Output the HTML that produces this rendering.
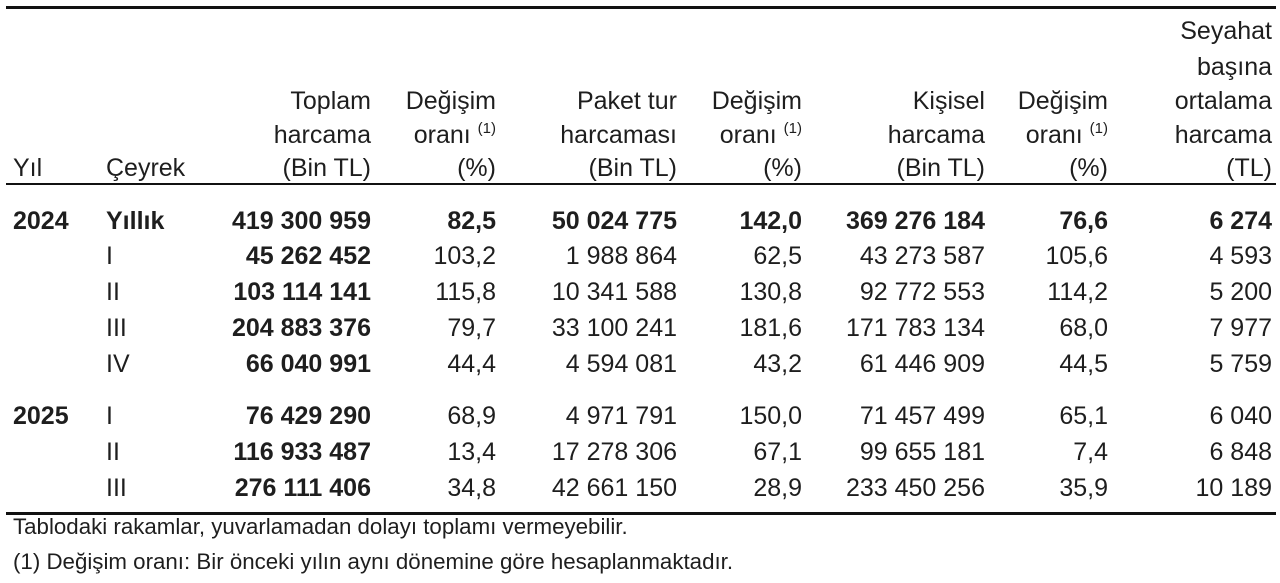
<!DOCTYPE html>
<html><head><meta charset="utf-8"><style>
body{margin:0;width:1280px;height:583px;background:#fff;position:relative;overflow:hidden;font-family:"Liberation Sans",Arial,sans-serif;color:#1e1e1e}
.c{position:absolute;white-space:nowrap;font-size:25px;line-height:26px;height:26px;text-align:right}
.l{text-align:left}
.b{font-weight:bold}
sup{font-size:15px;vertical-align:0;position:relative;top:-10px}
.ln{position:absolute;left:6px;right:4px;background:#111}
.f{position:absolute;left:13px;font-size:22.3px;white-space:nowrap;line-height:24px}
</style></head><body>
<div class="ln" style="top:6px;height:3px"></div>
<div class="ln" style="top:183px;height:2px"></div>
<div class="ln" style="top:512px;height:3px"></div>

<div class="c l" style="left:13px;top:155px">Yıl</div>
<div class="c l" style="left:106px;top:155px">Çeyrek</div>
<div class="c" style="right:909px;top:88px">Toplam</div>
<div class="c" style="right:909px;top:122px">harcama</div>
<div class="c" style="right:909px;top:155px">(Bin TL)</div>
<div class="c" style="right:784px;top:88px">Değişim</div>
<div class="c" style="right:784px;top:122px">oranı <sup>(1)</sup></div>
<div class="c" style="right:784px;top:155px">(%)</div>
<div class="c" style="right:603px;top:88px">Paket tur</div>
<div class="c" style="right:603px;top:122px">harcaması</div>
<div class="c" style="right:603px;top:155px">(Bin TL)</div>
<div class="c" style="right:478px;top:88px">Değişim</div>
<div class="c" style="right:478px;top:122px">oranı <sup>(1)</sup></div>
<div class="c" style="right:478px;top:155px">(%)</div>
<div class="c" style="right:295px;top:88px">Kişisel</div>
<div class="c" style="right:295px;top:122px">harcama</div>
<div class="c" style="right:295px;top:155px">(Bin TL)</div>
<div class="c" style="right:172px;top:88px">Değişim</div>
<div class="c" style="right:172px;top:122px">oranı <sup>(1)</sup></div>
<div class="c" style="right:172px;top:155px">(%)</div>
<div class="c" style="right:8px;top:18px">Seyahat</div>
<div class="c" style="right:8px;top:54px">başına</div>
<div class="c" style="right:8px;top:88px">ortalama</div>
<div class="c" style="right:8px;top:122px">harcama</div>
<div class="c" style="right:8px;top:155px">(TL)</div>

<div class="c l b" style="left:13px;top:208px">2024</div>
<div class="c l b" style="left:106px;top:208px">Yıllık</div>
<div class="c b" style="right:909px;top:208px">419 300 959</div>
<div class="c b" style="right:784px;top:208px">82,5</div>
<div class="c b" style="right:603px;top:208px">50 024 775</div>
<div class="c b" style="right:478px;top:208px">142,0</div>
<div class="c b" style="right:295px;top:208px">369 276 184</div>
<div class="c b" style="right:172px;top:208px">76,6</div>
<div class="c b" style="right:8px;top:208px">6 274</div>

<div class="c l" style="left:106px;top:243px">I</div>
<div class="c b" style="right:909px;top:243px">45 262 452</div>
<div class="c" style="right:784px;top:243px">103,2</div>
<div class="c" style="right:603px;top:243px">1 988 864</div>
<div class="c" style="right:478px;top:243px">62,5</div>
<div class="c" style="right:295px;top:243px">43 273 587</div>
<div class="c" style="right:172px;top:243px">105,6</div>
<div class="c" style="right:8px;top:243px">4 593</div>

<div class="c l" style="left:106px;top:279px">II</div>
<div class="c b" style="right:909px;top:279px">103 114 141</div>
<div class="c" style="right:784px;top:279px">115,8</div>
<div class="c" style="right:603px;top:279px">10 341 588</div>
<div class="c" style="right:478px;top:279px">130,8</div>
<div class="c" style="right:295px;top:279px">92 772 553</div>
<div class="c" style="right:172px;top:279px">114,2</div>
<div class="c" style="right:8px;top:279px">5 200</div>

<div class="c l" style="left:106px;top:315px">III</div>
<div class="c b" style="right:909px;top:315px">204 883 376</div>
<div class="c" style="right:784px;top:315px">79,7</div>
<div class="c" style="right:603px;top:315px">33 100 241</div>
<div class="c" style="right:478px;top:315px">181,6</div>
<div class="c" style="right:295px;top:315px">171 783 134</div>
<div class="c" style="right:172px;top:315px">68,0</div>
<div class="c" style="right:8px;top:315px">7 977</div>

<div class="c l" style="left:106px;top:351px">IV</div>
<div class="c b" style="right:909px;top:351px">66 040 991</div>
<div class="c" style="right:784px;top:351px">44,4</div>
<div class="c" style="right:603px;top:351px">4 594 081</div>
<div class="c" style="right:478px;top:351px">43,2</div>
<div class="c" style="right:295px;top:351px">61 446 909</div>
<div class="c" style="right:172px;top:351px">44,5</div>
<div class="c" style="right:8px;top:351px">5 759</div>

<div class="c l b" style="left:13px;top:403px">2025</div>
<div class="c l" style="left:106px;top:403px">I</div>
<div class="c b" style="right:909px;top:403px">76 429 290</div>
<div class="c" style="right:784px;top:403px">68,9</div>
<div class="c" style="right:603px;top:403px">4 971 791</div>
<div class="c" style="right:478px;top:403px">150,0</div>
<div class="c" style="right:295px;top:403px">71 457 499</div>
<div class="c" style="right:172px;top:403px">65,1</div>
<div class="c" style="right:8px;top:403px">6 040</div>

<div class="c l" style="left:106px;top:439px">II</div>
<div class="c b" style="right:909px;top:439px">116 933 487</div>
<div class="c" style="right:784px;top:439px">13,4</div>
<div class="c" style="right:603px;top:439px">17 278 306</div>
<div class="c" style="right:478px;top:439px">67,1</div>
<div class="c" style="right:295px;top:439px">99 655 181</div>
<div class="c" style="right:172px;top:439px">7,4</div>
<div class="c" style="right:8px;top:439px">6 848</div>

<div class="c l" style="left:106px;top:475px">III</div>
<div class="c b" style="right:909px;top:475px">276 111 406</div>
<div class="c" style="right:784px;top:475px">34,8</div>
<div class="c" style="right:603px;top:475px">42 661 150</div>
<div class="c" style="right:478px;top:475px">28,9</div>
<div class="c" style="right:295px;top:475px">233 450 256</div>
<div class="c" style="right:172px;top:475px">35,9</div>
<div class="c" style="right:8px;top:475px">10 189</div>

<div class="f" style="top:515px">Tablodaki rakamlar, yuvarlamadan dolayı toplamı vermeyebilir.</div>
<div class="f" style="top:550px">(1) Değişim oranı: Bir önceki yılın aynı dönemine göre hesaplanmaktadır.</div>
</body></html>
